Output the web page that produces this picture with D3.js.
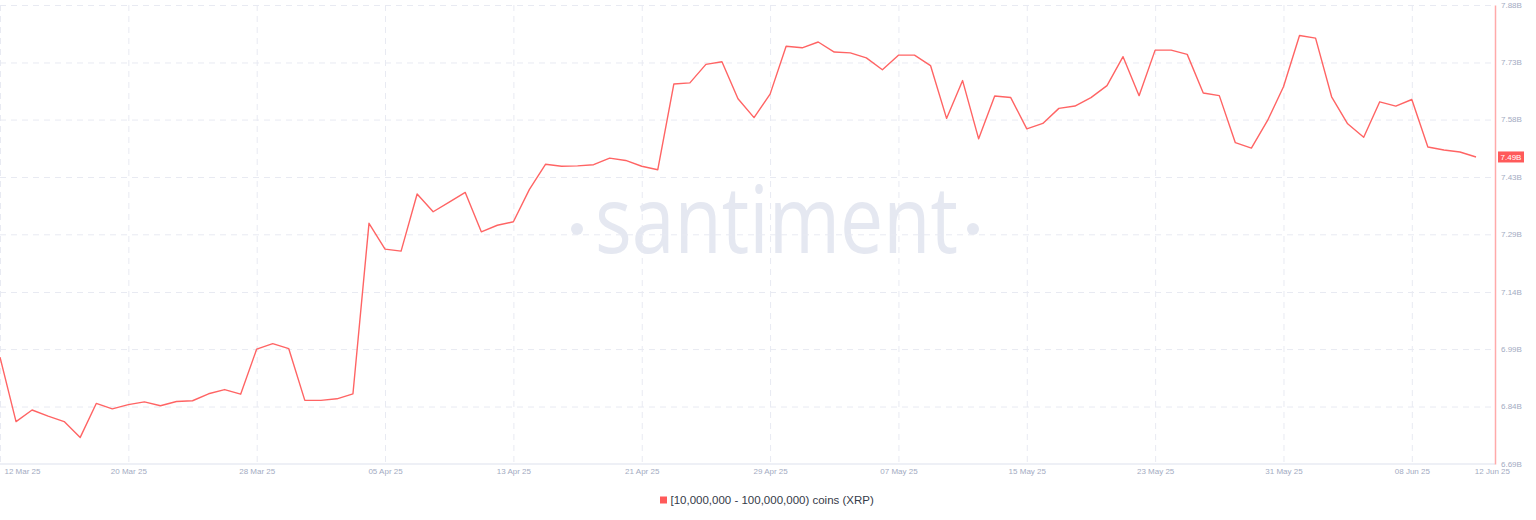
<!DOCTYPE html>
<html>
<head>
<meta charset="utf-8">
<script src="https://cdn.jsdelivr.net/npm/d3@7/dist/d3.min.js"></script>
<style>
  html, body { margin: 0; padding: 0; background: #ffffff; }
  svg { display: block; }
</style>
</head>
<body>
<svg id="chart" width="1536" height="520"></svg>
<script>
// ---- data ----
const startDate = "2025-03-12";
const endDate = "2025-06-12";
// holdings of [10M - 100M) XRP wallets, in billions of coins, one per day
const values = [
  6.967, 6.800, 6.830, 6.814, 6.800, 6.759, 6.847, 6.833, 6.844, 6.851,
  6.841, 6.852, 6.854, 6.872, 6.883, 6.871, 6.988, 7.002, 6.989, 6.855,
  6.855, 6.859, 6.872, 7.314, 7.247, 7.242, 7.390, 7.344, 7.369, 7.394,
  7.292, 7.309, 7.318, 7.402, 7.467, 7.462, 7.463, 7.466, 7.483, 7.477,
  7.462, 7.453, 7.675, 7.678, 7.726, 7.733, 7.637, 7.588, 7.649, 7.773,
  7.769, 7.784, 7.758, 7.756, 7.743, 7.712, 7.750, 7.750, 7.723, 7.586,
  7.684, 7.533, 7.644, 7.640, 7.559, 7.573, 7.612, 7.618, 7.640, 7.671,
  7.746, 7.645, 7.763, 7.763, 7.752, 7.652, 7.645, 7.523, 7.509, 7.580,
  7.668, 7.801, 7.794, 7.642, 7.572, 7.537, 7.629, 7.618, 7.635, 7.512,
  7.504, 7.499, 7.486
];
const yTicks = [6.69, 6.839, 6.988, 7.136, 7.2855, 7.434, 7.583, 7.731, 7.88];
const xTickDates = ["2025-03-12", "2025-03-20", "2025-03-28", "2025-04-05", "2025-04-13",
  "2025-04-21", "2025-04-29", "2025-05-07", "2025-05-15", "2025-05-23", "2025-05-31", "2025-06-08"];
const seriesName = "[10,000,000 - 100,000,000) coins (XRP)";
const watermark = "santiment";

// ---- setup ----
const parse = d3.utcParse("%Y-%m-%d");
const dates = d3.utcDays(parse(startDate), d3.utcDay.offset(parse(endDate), 1));
const data = dates.map((d, i) => ({ date: d, value: values[i] }));

const svg = d3.select("#chart");
const lineColor = "#ff6464";
const labelColor = "#a3abc2";
const gridColor = "#e8eaf2";
const font = "'Liberation Sans', Arial, sans-serif";

const plotLeft = 0, plotRight = 1476, axisX = 1495;
const x = d3.scaleUtc().domain([parse(startDate), parse(endDate)]).range([plotLeft, plotRight]);
const y = d3.scaleLinear().domain([6.69, 7.88]).range([464, 5]);

// watermark
const wm = svg.append("g").attr("fill", "#e5e8f1");
wm.append("text")
  .attr("x", 776.5).attr("y", 252.5)
  .attr("text-anchor", "middle")
  .attr("font-family", "'Open Sans', sans-serif")
  .attr("font-weight", 400)
  .attr("font-size", 94)
  .attr("textLength", 363)
  .attr("lengthAdjust", "spacingAndGlyphs")
  .text(watermark);
wm.append("circle").attr("cx", 577).attr("cy", 229).attr("r", 6);
wm.append("circle").attr("cx", 973).attr("cy", 229).attr("r", 6);

// horizontal grid
const yAxisGrid = d3.axisRight(y).tickValues(yTicks).tickSize(axisX).tickFormat("");
svg.append("g")
  .call(yAxisGrid)
  .call(g => g.select(".domain").remove())
  .call(g => g.selectAll("line").attr("stroke", gridColor).attr("stroke-dasharray", "6,5"));

// vertical grid
const xTicks = xTickDates.map(parse);
const xGrid = d3.axisBottom(x).tickValues(xTicks).tickSize(459).tickFormat("");
svg.append("g").attr("transform", "translate(0,5)")
  .call(xGrid)
  .call(g => g.select(".domain").remove())
  .call(g => g.selectAll("line").attr("stroke", gridColor).attr("stroke-dasharray", "6,5"));

// bottom axis line
svg.append("line")
  .attr("x1", 0).attr("x2", axisX).attr("y1", 464).attr("y2", 464)
  .attr("stroke", "#eef0f6").attr("stroke-width", 2);

// x axis labels
const fmtDate = d3.utcFormat("%d %b %y");
const xAxis = d3.axisBottom(x).tickValues(xTicks).tickSize(0).tickPadding(0).tickFormat(fmtDate);
svg.append("g").attr("transform", "translate(0,468)")
  .call(xAxis)
  .call(g => g.select(".domain").remove())
  .call(g => g.selectAll("text")
    .attr("y", 0).attr("dy", "0.71em")
    .attr("fill", labelColor).attr("font-family", font).attr("font-size", 8)
    .filter((d, i) => i === 0).attr("text-anchor", "start").attr("x", 4));
// end-date label
svg.append("text")
  .attr("x", 1510).attr("y", 468).attr("dy", "0.71em")
  .attr("text-anchor", "end")
  .attr("fill", labelColor).attr("font-family", font).attr("font-size", 8)
  .text(fmtDate(parse(endDate)));

// right y axis
const yAxis = d3.axisRight(y).tickValues(yTicks).tickSize(0).tickPadding(6)
  .tickFormat(d => d3.format(".2f")(d) + "B");
svg.append("g").attr("transform", `translate(${axisX},0)`)
  .call(yAxis)
  .call(g => g.select(".domain").attr("stroke", "#ffaaaa").attr("stroke-width", 1.5))
  .call(g => g.selectAll("text")
    .attr("fill", labelColor).attr("font-family", font).attr("font-size", 8).attr("dy", "0.3em"));

// line
const line = d3.line().x(d => x(d.date)).y(d => y(d.value));
svg.append("path")
  .datum(data)
  .attr("fill", "none")
  .attr("stroke", lineColor)
  .attr("stroke-width", 1.4)
  .attr("stroke-linejoin", "round")
  .attr("d", line);

// last value tag
const last = data[data.length - 1];
const tag = svg.append("g").attr("transform", `translate(${axisX + 3},${y(last.value)})`);
tag.append("rect").attr("x", 0).attr("y", -5.5).attr("width", 26).attr("height", 11)
  .attr("fill", "#ff5a5a");
tag.append("text").attr("x", 13).attr("y", 0).attr("dy", "0.35em")
  .attr("text-anchor", "middle").attr("fill", "#ffffff")
  .attr("font-family", font).attr("font-size", 8)
  .text(d3.format(".2f")(last.value) + "B");

// legend
const legend = svg.append("g").attr("transform", "translate(660,500)");
legend.append("rect").attr("x", 0).attr("y", -3.5).attr("width", 7).attr("height", 7).attr("fill", "#ff5a5a");
legend.append("text").attr("x", 10.5).attr("y", 0).attr("dy", "0.35em")
  .attr("fill", "#353a48").attr("font-family", font).attr("font-size", 11.5)
  .text(seriesName);
</script>
</body>
</html>
